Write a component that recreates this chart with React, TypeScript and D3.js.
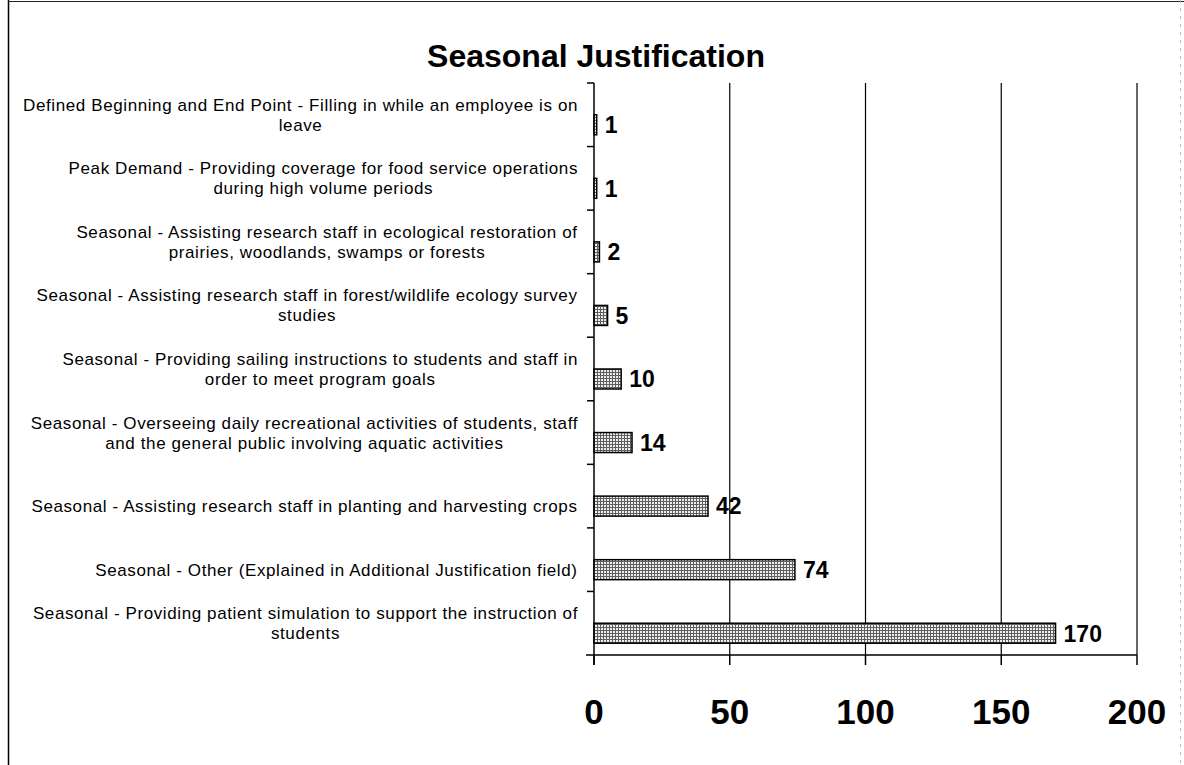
import { scaleBand, scaleLinear } from "d3";

const categories = [
  "Defined Beginning and End Point - Filling in while an employee is on leave",
  "Peak Demand - Providing coverage for food service operations during high volume periods",
  "Seasonal - Assisting research staff in ecological restoration of prairies, woodlands, swamps or forests",
  "Seasonal - Assisting research staff in forest/wildlife ecology survey studies",
  "Seasonal - Providing sailing instructions to students and staff in order to meet program goals",
  "Seasonal - Overseeing daily recreational activities of students, staff and the general public involving aquatic activities",
  "Seasonal - Assisting research staff in planting and harvesting crops",
  "Seasonal - Other (Explained in Additional Justification field)",
  "Seasonal - Providing patient simulation to support the instruction of students",
];

// wrapped lines as they appear in the chart
const categoryLines = [
  ["Defined Beginning and End Point - Filling in while an employee is on", "leave"],
  ["Peak Demand - Providing coverage for food service operations", "during high volume periods"],
  ["Seasonal - Assisting research staff in ecological restoration of", "prairies, woodlands, swamps or forests"],
  ["Seasonal - Assisting research staff in forest/wildlife ecology survey", "studies"],
  ["Seasonal - Providing sailing instructions to students and staff in", "order to meet program goals"],
  ["Seasonal - Overseeing daily recreational activities of students, staff", "and the general public involving aquatic activities"],
  ["Seasonal - Assisting research staff in planting and harvesting crops"],
  ["Seasonal - Other (Explained in Additional Justification field)"],
  ["Seasonal - Providing patient simulation to support the instruction of", "students"],
];

const values = [1, 1, 2, 5, 10, 14, 42, 74, 170];

const xTicks = [0, 50, 100, 150, 200];

const FONT = "Arial, 'Liberation Sans', Helvetica, sans-serif";
const LABEL_SIZE = 17;
const LABEL_SPACING = 0.6;

let ctx: CanvasRenderingContext2D | null = null;
const measure = (s: string) => {
  if (!ctx) ctx = document.createElement("canvas").getContext("2d");
  if (!ctx) return s.length * 8;
  ctx.font = `${LABEL_SIZE}px ${FONT}`;
  return ctx.measureText(s).width + s.length * LABEL_SPACING;
};

const App = () => {
  const width = 1184;
  const height = 765;

  const xScale = scaleLinear().domain([0, 200]).range([594, 1137]);
  const yScale = scaleBand().domain(categories).range([83, 655]).padding(0);

  const barHeight = 20;
  const barShift = 10; // bars sit a little below the band centre
  const labelRight = 578;
  const lineGap = 20;

  const [y0, y1] = yScale.range();
  const x0 = xScale(0);

  return (
    <div style={{ position: "absolute", left: 0, top: 0 }}>
      <svg width={width} height={height} style={{ display: "block", background: "#fff" }}>
        <defs>
          <pattern id="grid" width={3} height={3} patternUnits="userSpaceOnUse">
            <rect width={3} height={3} fill="#eeeeee" />
            <path d="M0 0.5H3M0.5 0V3" stroke="#5e5e5e" strokeWidth={1} />
          </pattern>
        </defs>

        {/* frame */}
        <line x1={8.5} y1={0} x2={8.5} y2={height} stroke="#000" strokeWidth={1.5} />
        <line x1={8} y1={1.5} x2={width} y2={1.5} stroke="#222" strokeWidth={1} />
        <line x1={1180.5} y1={0} x2={1180.5} y2={height} stroke="#bbb" strokeWidth={1} strokeDasharray="3,5" />

        <text x={596} y={67} textAnchor="middle" fontFamily={FONT} fontWeight="bold" fontSize={32}>
          Seasonal Justification
        </text>

        {/* gridlines */}
        {xTicks.slice(1).map((t) => (
          <line key={`g-${t}`} x1={xScale(t)} x2={xScale(t)} y1={y0} y2={y1} stroke="#000" strokeWidth={1.2} />
        ))}

        {/* y axis */}
        <line x1={x0} x2={x0} y1={y0} y2={y1 + 10} stroke="#000" strokeWidth={1.5} />
        {yScale.domain().map((c) => (
          <line key={`yt-${c}`} x1={x0 - 7} x2={x0} y1={yScale(c)!} y2={yScale(c)!} stroke="#000" strokeWidth={1.5} />
        ))}

        {/* x axis */}
        <line x1={x0 - 8} x2={xScale(200)} y1={y1} y2={y1} stroke="#000" strokeWidth={1.5} />
        {xTicks.map((t) => (
          <line key={`xt-${t}`} x1={xScale(t)} x2={xScale(t)} y1={y1} y2={y1 + 10} stroke="#000" strokeWidth={1.5} />
        ))}
        {xTicks.map((t) => (
          <text key={`xl-${t}`} x={xScale(t)} y={724} textAnchor="middle" fontFamily={FONT} fontWeight="bold" fontSize={35}>
            {t}
          </text>
        ))}

        {/* bars */}
        {categories.map((c, i) => {
          const cy = yScale(c)! + yScale.bandwidth() / 2 + barShift;
          const w = xScale(values[i]) - x0;
          return (
            <g key={`bar-${i}`}>
              <rect
                x={x0}
                y={cy - barHeight / 2}
                width={w}
                height={barHeight}
                fill="url(#grid)"
                stroke="#000"
                strokeWidth={1.5}
              />
              <text
                x={xScale(values[i]) + 8}
                y={cy}
                dy="0.36em"
                fontFamily={FONT}
                fontWeight="bold"
                fontSize={23}
              >
                {values[i]}
              </text>
            </g>
          );
        })}

        {/* category labels: last line level with the bar */}
        {categories.map((c, i) => {
          const lines = categoryLines[i];
          const cy = yScale(c)! + yScale.bandwidth() / 2 + barShift;
          const maxW = Math.max(...lines.map(measure));
          const cx = labelRight - maxW / 2;
          const top = cy - (lines.length - 1) * lineGap;
          return (
            <text
              key={`cl-${i}`}
              textAnchor="middle"
              fontFamily={FONT}
              fontSize={LABEL_SIZE}
              letterSpacing={LABEL_SPACING}
              fill="#000"
            >
              {lines.map((l, j) => (
                <tspan key={j} x={cx} y={top + j * lineGap} dy="0.35em">
                  {l}
                </tspan>
              ))}
            </text>
          );
        })}
      </svg>
    </div>
  );
};

export default App;
